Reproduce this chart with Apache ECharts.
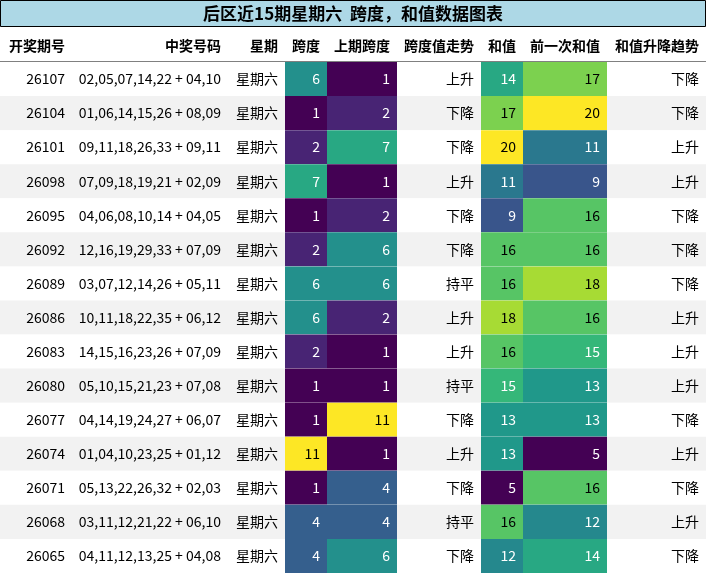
<!DOCTYPE html><html><head><meta charset="utf-8"><script src="https://cdn.jsdelivr.net/npm/echarts@6/dist/echarts.min.js"></script>
<style>html,body{margin:0;padding:0;background:#fff}#c{width:706px;height:574px}</style></head><body><div id="c"></div><script>
const title='后区近15期星期六  跨度，和值数据图表';
const headers=['开奖期号','中奖号码','星期','跨度','上期跨度','跨度值走势','和值','前一次和值','和值升降趋势'];
const issues=['26107','26104','26101','26098','26095','26092','26089','26086','26083','26080','26077','26074','26071','26068','26065'];
const numbers=['02,05,07,14,22 + 04,10','01,06,14,15,26 + 08,09','09,11,18,26,33 + 09,11','07,09,18,19,21 + 02,09','04,06,08,10,14 + 04,05','12,16,19,29,33 + 07,09','03,07,12,14,26 + 05,11','10,11,18,22,35 + 06,12','14,15,16,23,26 + 07,09','05,10,15,21,23 + 07,08','04,14,19,24,27 + 06,07','01,04,10,23,25 + 01,12','05,13,22,26,32 + 02,03','03,11,12,21,22 + 06,10','04,11,12,13,25 + 04,08'];
const weekday='星期六';
const span=[6,1,2,7,1,2,6,6,2,1,1,11,1,4,4];
const prevSpan=[1,2,7,1,2,6,6,2,1,1,11,1,4,4,6];
const spanTrend=['上升','下降','下降','上升','下降','下降','持平','上升','上升','持平','下降','上升','下降','持平','下降'];
const sums=[14,17,20,11,9,16,16,18,16,15,13,13,5,16,12];
const prevSums=[17,20,11,9,16,16,18,16,15,13,13,5,16,12,14];
const sumTrend=['下降','下降','上升','上升','下降','下降','下降','上升','上升','上升','下降','上升','下降','上升','下降'];

const edges=[0,72,228,285,327,397,481,523,607,706];
const vir=['#440154','#482878','#3e4989','#31688e','#26828e','#1f9e89','#35b779','#6ece58','#b5de2b','#fde725'];
function hex(c){return [1,3,5].map(i=>parseInt(c.substr(i,2),16));}
function viridis(t){t=Math.max(0,Math.min(1,t));const p=t*(vir.length-1),i=Math.min(Math.floor(p),vir.length-2),f=p-i;const a=hex(vir[i]),b=hex(vir[i+1]);return 'rgb('+a.map((v,k)=>Math.round(v+(b[k]-v)*f)).join(',')+')';}
const FONT='"Noto Sans CJK SC", sans-serif';
const data=issues.map((_,i)=>[i]);
function cellVals(i){return [issues[i],numbers[i],weekday,span[i],prevSpan[i],spanTrend[i],sums[i],prevSums[i],sumTrend[i]];}
const chart=echarts.init(document.getElementById('c'));
chart.setOption({
 animation:false,
 grid:{left:0,right:0,top:62,bottom:1},
 xAxis:{type:'value',min:0,max:706,show:false},
 yAxis:{type:'category',data:issues,inverse:true,show:false},
 graphic:[
  {type:'rect',shape:{x:0.5,y:0.5,width:705,height:26},style:{fill:'#add8e6',stroke:'#000',lineWidth:1}},
  {type:'text',x:353,y:14,style:{text:title,font:'bold 17px '+FONT,fill:'#000',align:'center',verticalAlign:'middle'}},
  ...headers.map((h,j)=>({type:'text',x:edges[j+1]-7,y:46,style:{text:h,font:'bold 14px '+FONT,fill:'#000',align:'right',verticalAlign:'middle'}})),
  {type:'line',shape:{x1:0,y1:62,x2:706,y2:62},style:{stroke:'#000',lineWidth:1}}
 ],
 series:[{type:'custom',data:data,encode:{y:0},renderItem:function(params,api){
   const i=api.value(0);const c=api.coord([0,i]);const h=api.size([0,1])[1];const y0=c[1]-h/2;
   const vals=cellVals(i);const ch=[];
   ch.push({type:'rect',shape:{x:0,y:y0,width:706,height:h},style:{fill:i%2?'#f2f2f2':'#ffffff'}});
   for(let j=0;j<9;j++){
     const x0=api.coord([edges[j],i])[0],x1=api.coord([edges[j+1],i])[0];
     let fill=null,txt='#000';
     if(j===3||j===4){const t=(vals[j]-1)/10;fill=viridis(t);txt=t>0.7?'#000':'#fff';}
     if(j===6||j===7){const t=(vals[j]-5)/15;fill=viridis(t);txt=t>0.7?'#000':'#fff';}
     if(fill)ch.push({type:'rect',shape:{x:x0,y:y0,width:x1-x0,height:h},style:{fill:fill}});
     ch.push({type:'text',x:x1-7,y:c[1],style:{text:String(vals[j]),font:'14px '+FONT,fill:txt,align:'right',verticalAlign:'middle'}});
   }
   return {type:'group',children:ch};
 }}]
});
</script></body></html>
